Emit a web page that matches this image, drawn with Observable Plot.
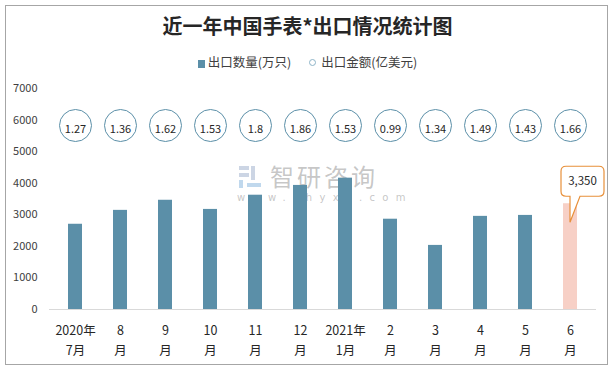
<!DOCTYPE html>
<html><head><meta charset="utf-8">
<script src="https://cdn.jsdelivr.net/npm/d3@7"></script>
<script src="https://cdn.jsdelivr.net/npm/@observablehq/plot@0.6"></script>
<style>
body{margin:0;background:#fff;}
#chart{position:relative;width:615px;height:369px;overflow:hidden;font-family:"Noto Sans CJK SC","Noto Sans",sans-serif;}
#frame{position:absolute;left:5px;top:5px;width:603px;height:360px;border:1px solid #a6a6a6;box-sizing:border-box;}
#title{position:absolute;left:0;top:12px;width:615px;text-align:center;font-size:20px;font-weight:700;color:#262626;line-height:28px;}
#legend{position:absolute;left:0;top:52px;width:615px;text-align:center;font-size:12.5px;color:#404040;line-height:20px;}
#legend span.item{display:inline-block;margin:0 9px;}
.sq{display:inline-block;width:7px;height:8px;background:#5b8fa8;margin-right:3px;vertical-align:-1px;}
.ci{display:inline-block;width:5px;height:5px;border:1px solid #8db3c7;border-radius:50%;margin-right:5px;vertical-align:1px;}
#wm{position:absolute;left:237px;top:164px;color:rgba(150,150,150,0.55);pointer-events:none;}
#wm .t{position:absolute;left:33px;top:0;font-size:24px;letter-spacing:3px;white-space:nowrap;line-height:24px;}
#wm .u{position:absolute;left:0;top:28px;font-size:10px;letter-spacing:7.3px;white-space:nowrap;line-height:12px;font-family:"DejaVu Sans",sans-serif;}
#plot{position:absolute;left:0;top:0;}
</style></head>
<body>
<div id="chart">
  <div id="frame"></div>
  <div id="title">近一年中国手表*出口情况统计图</div>
  <div id="legend"><span class="item"><span class="sq"></span>出口数量(万只)</span><span class="item"><span class="ci"></span>出口金额(亿美元)</span></div>
  <div id="wm">
    <svg width="28" height="28" style="position:absolute;left:0;top:0">
      <rect x="2" y="2" width="10" height="4" fill="rgba(170,185,210,0.6)"/>
      <rect x="2" y="9" width="10" height="4" fill="rgba(170,185,210,0.6)"/>
      <rect x="2" y="16" width="4" height="8" fill="rgba(150,190,225,0.6)"/>
      <rect x="14" y="2" width="4" height="14" fill="rgba(170,185,210,0.6)"/>
      <rect x="10" y="19" width="14" height="4" fill="rgba(150,190,225,0.6)"/>
    </svg>
    <div class="t">智研咨询</div>
    <div class="u">www.chyxx.com</div>
  </div>
  <div id="plot"></div>
</div>
<script>
// Data
const categories = ["2020年\n7月","8\n月","9\n月","10\n月","11\n月","12\n月","2021年\n1月","2\n月","3\n月","4\n月","5\n月","6\n月"];
const quantity = [2700, 3140, 3460, 3170, 3620, 3930, 4160, 2860, 2030, 2950, 2980, 3350]; // 出口数量(万只)
const amount = [1.27, 1.36, 1.62, 1.53, 1.8, 1.86, 1.53, 0.99, 1.34, 1.49, 1.43, 1.66]; // 出口金额(亿美元)
const yTicks = [0, 1000, 2000, 3000, 4000, 5000, 6000, 7000];

const data = categories.map((c, i) => ({month: c, qty: quantity[i], amt: amount[i], last: i === categories.length - 1}));
const BLUE = "#5b8fa8", PINK = "#f7d0c6", ORANGE = "#e8903a";

const callout = (index, scales) => {
  const i = categories.length - 1;
  const bw = scales.x && scales.x.bandwidth ? scales.x.bandwidth() : 0;
  const cx = scales.x(categories[i]) + bw / 2;
  const cy = scales.y(quantity[i]);
  const left = cx - 9, right = cx + 34, bottom = cy - 7, top = cy - 37, r = 5;
  const tipY = cy + 19, b1 = cx, b2 = cx + 10;
  const path = `M${left + r},${top} H${right - r} Q${right},${top} ${right},${top + r} V${bottom - r} Q${right},${bottom} ${right - r},${bottom} H${b2} L${cx},${tipY} L${b1},${bottom} H${left + r} Q${left},${bottom} ${left},${bottom - r} V${top + r} Q${left},${top} ${left + r},${top} Z`;
  const g = d3.create("svg:g");
  g.append("path").attr("d", path).attr("fill", "white").attr("stroke", ORANGE).attr("stroke-width", 1.2);
  g.append("text").attr("x", (left + right) / 2).attr("y", (top + bottom) / 2).attr("dy", "0.35em")
    .attr("text-anchor", "middle").attr("font-size", 11.5).attr("fill", "#262626")
    .text(d3.format(",")(quantity[i]));
  return g.node();
};

const chart = Plot.plot({
  width: 615,
  height: 369,
  marginTop: 88,
  marginBottom: 60,
  marginLeft: 49,
  marginRight: 19,
  style: {fontFamily: '"Noto Sans CJK SC","Noto Sans",sans-serif', fontSize: "11px", color: "#404040", background: "transparent"},
  x: {domain: categories, paddingInner: 0.69, paddingOuter: 0.345, axis: null},
  y: {domain: [0, 7000], axis: null},
  marks: [
    Plot.axisY({ticks: yTicks, tickSize: 0, tickPadding: 12, tickFormat: d => String(d), fontSize: 11, label: null}),
    Plot.barY(data, {x: "month", y: "qty", fill: d => d.last ? PINK : BLUE}),
    Plot.ruleY([0], {stroke: "#d9d9d9", strokeWidth: 1}),
    Plot.text(data, {x: "month", text: "month", frameAnchor: "bottom", lineAnchor: "top", dy: 12, lineHeight: 1.55, fontSize: 12.5, fill: "#262626"}),
    Plot.dot(data, {x: "month", frameAnchor: "top", dy: 37, r: 16, fill: "white", stroke: BLUE, strokeWidth: 1}),
    Plot.text(data, {x: "month", text: d => String(d.amt), frameAnchor: "top", dy: 37, fontSize: 11, fill: "#262626"}),
    callout
  ]
});
document.getElementById("plot").appendChild(chart);
</script>
</body></html>
